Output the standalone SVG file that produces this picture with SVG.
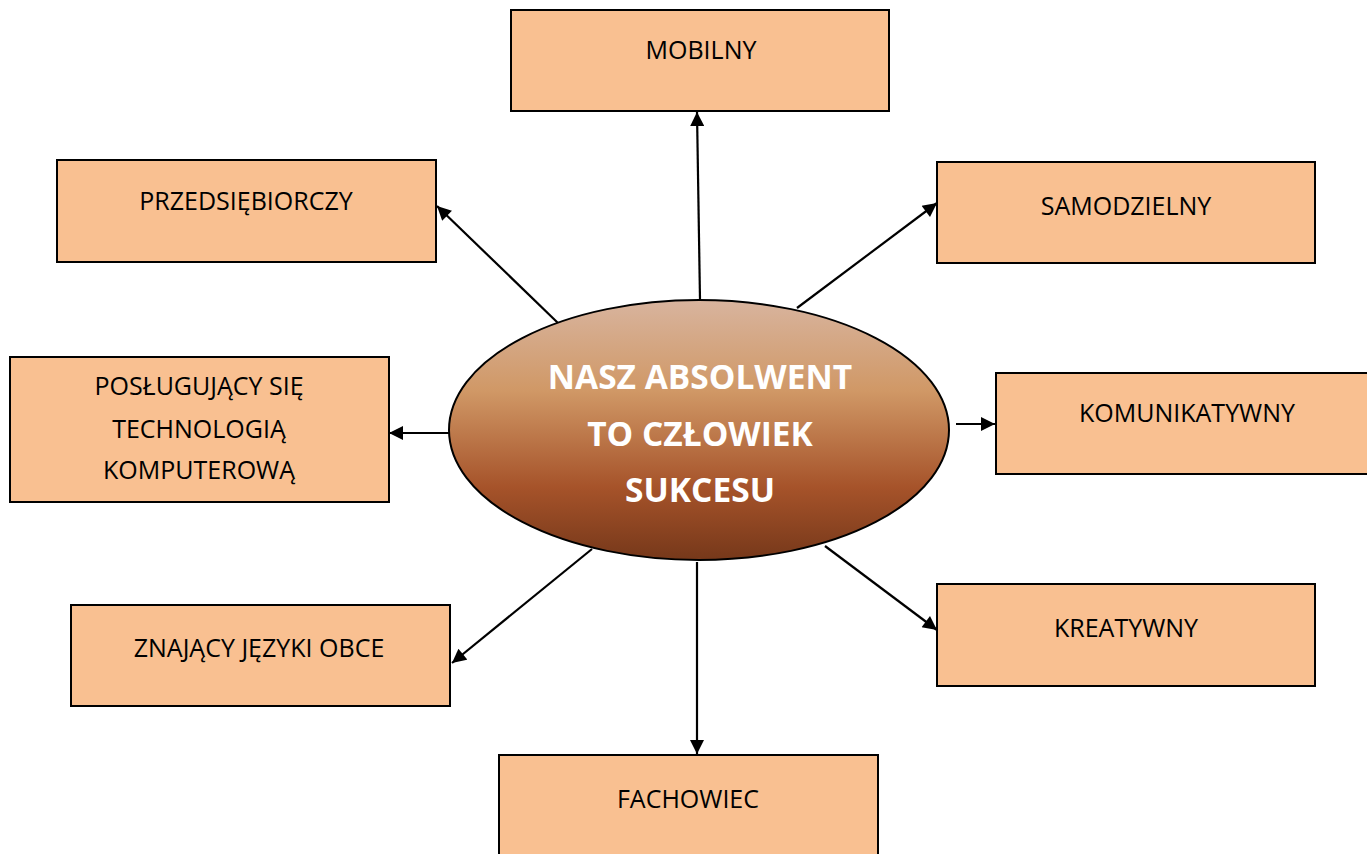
<svg xmlns="http://www.w3.org/2000/svg" width="1367" height="854" viewBox="0 0 1367 854">
<defs>
<linearGradient id="eg" x1="0" y1="0" x2="0" y2="1">
<stop offset="0" stop-color="#d8b49e"/>
<stop offset="0.35" stop-color="#d09866"/>
<stop offset="0.72" stop-color="#a6532a"/>
<stop offset="1" stop-color="#76381a"/>
</linearGradient>
<marker id="ah" viewBox="0 0 10 10" refX="10" refY="5" markerWidth="15" markerHeight="14" markerUnits="userSpaceOnUse" orient="auto">
<path d="M0,0 L10,5 L0,10 Z" fill="#000"/>
</marker>
<style>
.box{fill:#f9c091;stroke:#000;stroke-width:2}
.lbl{font-family:"Open Sans","Liberation Sans",sans-serif;font-size:25px;fill:#000;text-anchor:middle}
.ctr{font-family:"Open Sans","Liberation Sans",sans-serif;font-size:33.5px;font-weight:bold;fill:#fff;text-anchor:middle}
.con line{stroke:#000;stroke-width:2.2;marker-end:url(#ah)}
</style>
</defs>
<rect width="1367" height="854" fill="#fff"/>
<g class="con" id="connectors">
<line x1="700" y1="300" x2="697" y2="112"/>
<line x1="558" y1="323" x2="437" y2="206"/>
<line x1="797" y1="308" x2="937" y2="203"/>
<line x1="449" y1="433" x2="389" y2="433"/>
<line x1="956" y1="424" x2="995" y2="424"/>
<line x1="592" y1="549" x2="452" y2="663"/>
<line x1="825" y1="546" x2="937" y2="630"/>
<line x1="697" y1="562" x2="697" y2="754"/>
</g>
<g id="center">
<ellipse cx="699" cy="430" rx="250" ry="130" fill="url(#eg)" stroke="#000" stroke-width="2"/>
<text class="ctr" x="700" y="389">NASZ ABSOLWENT</text>
<text class="ctr" x="700" y="446">TO CZŁOWIEK</text>
<text class="ctr" x="700" y="502">SUKCESU</text>
</g>
<g id="mobilny"><rect class="box" x="511" y="10" width="378" height="101"/><text class="lbl" x="701" y="59">MOBILNY</text></g>
<g id="przedsiebiorczy"><rect class="box" x="57" y="160" width="379" height="102"/><text class="lbl" x="246" y="210">PRZEDSIĘBIORCZY</text></g>
<g id="samodzielny"><rect class="box" x="937" y="162" width="378" height="101"/><text class="lbl" x="1126" y="215">SAMODZIELNY</text></g>
<g id="poslugujacy"><rect class="box" x="10" y="357" width="379" height="145"/>
<text class="lbl" x="199" y="395">POSŁUGUJĄCY SIĘ</text>
<text class="lbl" x="199" y="438">TECHNOLOGIĄ</text>
<text class="lbl" x="199" y="479">KOMPUTEROWĄ</text></g>
<g id="komunikatywny"><rect class="box" x="996" y="373" width="380" height="101"/><text class="lbl" x="1187" y="422">KOMUNIKATYWNY</text></g>
<g id="znajacy"><rect class="box" x="71" y="605" width="379" height="101"/><text class="lbl" x="259" y="657">ZNAJĄCY JĘZYKI OBCE</text></g>
<g id="kreatywny"><rect class="box" x="937" y="584" width="378" height="102"/><text class="lbl" x="1126" y="637">KREATYWNY</text></g>
<g id="fachowiec"><rect class="box" x="499" y="755" width="379" height="110"/><text class="lbl" x="688" y="808">FACHOWIEC</text></g>
</svg>
